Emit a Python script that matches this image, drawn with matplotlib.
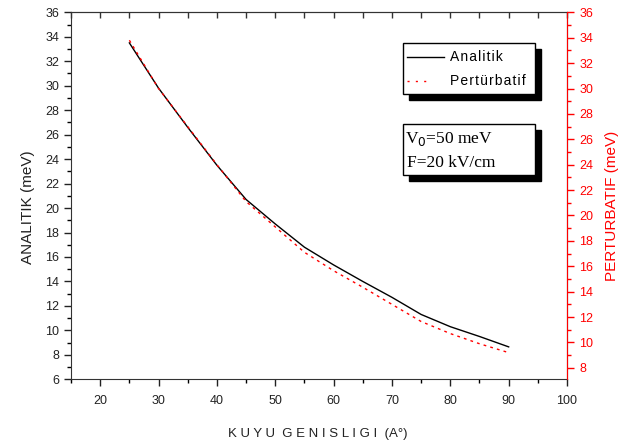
import matplotlib
matplotlib.use("Agg")
import matplotlib.pyplot as plt
from matplotlib.ticker import MultipleLocator
from matplotlib.patches import Rectangle

plt.rcParams['font.family'] = ['Liberation Sans', 'DejaVu Sans']

# well width (Angstrom)
width = [25, 30, 35, 40, 45, 50, 55, 60, 65, 70, 75, 80, 85, 90]
# analytic energies (meV), left axis
analitik = [33.5, 29.8, 26.6, 23.5, 20.7, 18.7, 16.8, 15.35, 14.0, 12.7, 11.3, 10.3, 9.5, 8.65]
# perturbative energies (meV), right axis
perturbatif = [33.8, 30.0, 27.0, 24.0, 21.1, 19.1, 17.1, 15.65, 14.35, 13.0, 11.65, 10.7, 9.9, 9.2]

W, H = 624, 443
fig = plt.figure(figsize=(W / 100, H / 100), dpi=100)
ax = fig.add_axes([0.1138, 0.1438, 0.7949, 0.8284])
ax2 = ax.twinx()

ax.plot(width, analitik, color='black', lw=1.0)
ax2.plot(width, perturbatif, color='red', lw=1.0, ls=(0, (2, 3)))

ax.set_xlim(15, 100)
ax.set_ylim(6, 36)
ax2.set_ylim(7.1, 36)

ax.xaxis.set_major_locator(MultipleLocator(10))
ax.xaxis.set_minor_locator(MultipleLocator(5))
ax.yaxis.set_major_locator(MultipleLocator(2))
ax.yaxis.set_minor_locator(MultipleLocator(1))
ax2.yaxis.set_major_locator(MultipleLocator(2))
ax2.yaxis.set_minor_locator(MultipleLocator(1))

ax.tick_params(axis='x', which='major', direction='out', length=5, width=1, labelsize=9,
               colors='#222222', pad=6)
ax.tick_params(axis='x', which='minor', direction='out', length=3, width=1)
ax.tick_params(axis='y', which='major', direction='out', length=5, width=1, labelsize=9,
               colors='#222222')
ax.tick_params(axis='y', which='minor', direction='out', length=3, width=1)
ax2.tick_params(axis='y', which='major', direction='out', length=5, width=1, labelsize=9,
                colors='red', pad=4)
ax2.tick_params(axis='y', which='minor', direction='out', length=3, width=1, colors='red')

# inward ticks along the top edge
top = ax.secondary_xaxis('top')
top.xaxis.set_major_locator(MultipleLocator(10))
top.xaxis.set_minor_locator(MultipleLocator(5))
top.tick_params(which='both', direction='in', length=4, width=1, labeltop=False, colors='#333333')

for sp in ['left', 'top', 'bottom']:
    ax.spines[sp].set_color('#333333')
top.spines['top'].set_color('#333333')
ax2.spines['right'].set_color('red')
ax2.spines['left'].set_visible(False)
ax2.spines['top'].set_visible(False)
ax2.spines['bottom'].set_visible(False)

ax.set_xlabel('K U Y U  G E N I S L I G I  (A°)', fontsize=9.5, color='#222222')
ax.xaxis.set_label_coords((318 - 71) / 496, -(428 - 379) / 367)
ax.set_ylabel('ANALITIK (meV)', fontsize=11, color='#222222')
ax.yaxis.set_label_coords(-(71 - 35) / 496, (379 - 207) / 367)
ax2.set_ylabel('PERTURBATIF (meV)', fontsize=11, color='red')
ax2.yaxis.set_label_coords((605 - 71) / 496, (379 - 206) / 367)


def shadow_box(x0, y0, x1, y1):
    # boxes in pixel coordinates (top-left origin)
    sh = Rectangle(((x0 + 6) / W, 1 - (y1 + 6) / H), (x1 - x0) / W, (y1 - y0) / H,
                   transform=fig.transFigure, facecolor='black', edgecolor='black', zorder=5)
    bx = Rectangle((x0 / W, 1 - y1 / H), (x1 - x0) / W, (y1 - y0) / H,
                   transform=fig.transFigure, facecolor='white', edgecolor='black', lw=1, zorder=6)
    fig.patches.extend([sh, bx])


shadow_box(403, 43, 535, 94)
shadow_box(403, 124, 535, 175)

hs = '\u200a'
fig.lines.append(plt.Line2D([407 / W, 444 / W], [1 - 57 / H, 1 - 57 / H], transform=fig.transFigure,
                            color='black', lw=1, zorder=7))
fig.lines.append(plt.Line2D([407 / W, 426 / W], [1 - 81 / H, 1 - 81 / H], transform=fig.transFigure,
                            color='red', lw=1, ls=(0, (1.5, 4.5)), zorder=7))
fig.text(450 / W, 1 - 57 / H, hs.join('Analitik'), fontsize=10, va='center', zorder=8)
fig.text(450 / W, 1 - 81 / H, hs.join('Pertürbatif'), fontsize=10, va='center', zorder=8)
fig.text(405 / W, 1 - 139 / H, 'V$_0$=50 meV', family='Liberation Serif', fontsize=12.5,
         va='center', zorder=8)
fig.text(407 / W, 1 - 163 / H, 'F=20 kV/cm', family='Liberation Serif', fontsize=12.5,
         va='center', zorder=8)

fig.savefig('out.png', dpi=100)
